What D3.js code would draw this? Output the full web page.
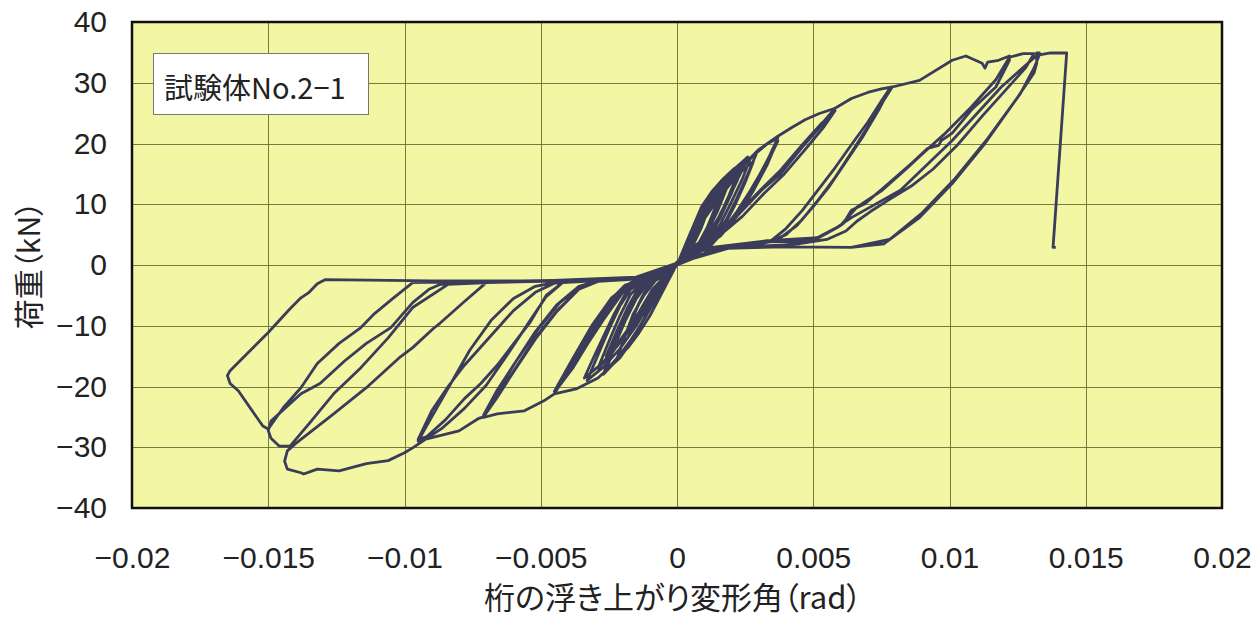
<!DOCTYPE html>
<html>
<head>
<meta charset="utf-8">
<script src="https://cdn.jsdelivr.net/npm/d3@7"></script>
<style>
  html, body { margin: 0; padding: 0; background: #fff; }
  svg { display: block; }
</style>
</head>
<body>
<div id="chart"></div>
<script>
// axis ticks
const xTicks = [-0.02, -0.015, -0.01, -0.005, 0, 0.005, 0.01, 0.015, 0.02];
const yTicks = [-40, -30, -20, -10, 0, 10, 20, 30, 40];

// load path, [rotation (rad), load (kN)]
const smallLoops = [
  [0,0],[0.0002,1.6],[0.0004,3.2],[0.0006,4.6],[0.0004,2.6],[0.0002,1.2],[0,0.2],
  [-0.0002,-1.2],[-0.0004,-2.6],[-0.0006,-3.9],[-0.0004,-2.1],[-0.0002,-1.0],[0,0],
  [0.0003,2.4],[0.0006,4.9],[0.0008,6.6],[0.0010,8.0],[0.0008,5.6],[0.0005,3.0],[0.0002,1.4],[0,0.3],
  [-0.0003,-1.9],[-0.0006,-3.9],[-0.0008,-5.2],[-0.0011,-6.8],[-0.0008,-4.1],[-0.0005,-2.2],[-0.0002,-1.0],[0,0],
  [0.0003,2.6],[0.0006,5.2],[0.0009,7.4],[0.0011,8.6],[0.0009,6.2],[0.0006,3.4],[0.0003,1.7],[0,0.2],
  [-0.0003,-2.1],[-0.0006,-4.3],[-0.0009,-6.1],[-0.0011,-7.2],[-0.0008,-4.4],[-0.0005,-2.4],[-0.0002,-1.1],[0,0]
];

const loopB = [
  [0.0004,3.4],[0.0008,6.9],[0.0012,9.8],[0.0015,11.6],[0.0017,12.6],[0.0014,9.4],[0.0011,6.1],[0.0008,3.6],[0.0005,2.3],[0.0002,1.5],[0,0.2],
  [-0.0003,-1.6],[-0.0007,-3.9],[-0.0011,-6.8],[-0.0015,-9.3],[-0.0018,-10.8],[-0.0015,-7.4],[-0.0012,-4.6],[-0.0008,-2.4],[-0.0004,-1.4],[0,0],
  [0.0003,3.2],[0.0006,6.4],[0.0009,9.6],[0.0013,12.2],[0.0017,14.2],[0.0021,15.9],[0.0018,12.4],[0.0015,9.0],[0.0012,6.2],[0.0009,4.0],[0.0005,2.6],[0.0002,1.6],[0,0.2],
  [-0.0003,-2.4],[-0.0006,-5.0],[-0.001,-8.4],[-0.0014,-11.2],[-0.0018,-13.6],[-0.0022,-15.4],[-0.0019,-11.6],[-0.0016,-8.2],[-0.0013,-5.4],[-0.001,-3.2],[-0.0006,-2.0],[-0.0002,-1.2],[0,0],
  [0.0004,3.1],[0.0008,6.5],[0.0012,9.5],[0.0016,12.0],[0.0018,13.0],[0.0015,9.9],[0.0012,6.6],[0.0009,3.9],[0.0005,2.4],[0.0002,1.6],[0,0.3],
  [-0.0003,-1.8],[-0.0007,-4.2],[-0.0011,-7.2],[-0.0015,-9.8],[-0.0019,-11.6],[-0.0016,-8.0],[-0.0012,-4.9],[-0.0008,-2.6],[-0.0004,-1.5],[0,0],
  [0.0005,4.6],[0.001,8.6],[0.0015,11.8],[0.002,14.4],[0.0023,15.8],[0.0019,11.4],[0.0015,7.4],[0.0011,4.2],[0.0007,2.6],[0.0003,1.8],[0,0.4],
  [-0.0004,-1.8],[-0.0008,-4.0],[-0.0013,-7.4],[-0.0018,-10.6],[-0.0022,-13.0],[-0.0025,-14.4],[-0.0021,-10.2],[-0.0017,-6.4],[-0.0013,-3.4],[-0.0008,-2.1],[-0.0003,-1.3],[0,0],
  [0.0004,4.0],[0.0008,7.6],[0.0012,10.6],[0.0016,13.0],[0.002,15.0],[0.0025,17.2],[0.0022,13.8],[0.0018,10.0],[0.0014,6.6],[0.001,4.2],[0.0006,2.8],[0.0002,1.8],[0,0.3],
  [-0.0004,-2.8],[-0.0008,-5.8],[-0.0012,-8.9],[-0.0017,-12.4],[-0.0022,-15.6],[-0.0027,-18.0],[-0.0024,-14.0],[-0.002,-9.8],[-0.0016,-6.2],[-0.0012,-3.6],[-0.0008,-2.3],[-0.0003,-1.4],[0,0],
  [0.0005,4.2],[0.001,8.2],[0.0015,11.4],[0.002,14.0],[0.0024,16.2],[0.002,11.8],[0.0016,7.9],[0.0012,4.6],[0.0008,2.8],[0.0003,1.9],[0,0.3],
  [-0.0004,-2.0],[-0.0009,-4.6],[-0.0014,-8.0],[-0.0019,-11.3],[-0.0023,-13.6],[-0.0026,-15.0],[-0.0022,-10.8],[-0.0018,-6.9],[-0.0014,-3.7],[-0.0009,-2.2],[-0.0004,-1.4],[0,0],
  [0.0006,5.2],[0.0012,10.0],[0.0018,13.6],[0.0023,16.0],[0.0027,17.6],[0.0024,14.2],[0.002,10.4],[0.0016,6.8],[0.0012,4.0],[0.0008,2.7],[0.0004,2.0],[0,0.5],
  [-0.0004,-1.7],[-0.0009,-4.0],[-0.0014,-7.8],[-0.002,-12.0],[-0.0025,-15.2],[-0.0029,-17.0],[-0.0025,-12.6],[-0.0021,-8.4],[-0.0017,-4.8],[-0.0012,-2.6],[-0.0006,-1.7],[0,0],
  [0.0005,5.4],[0.0009,9.0],[0.0014,12.4],[0.0019,15.0],[0.0024,17.0],[0.0026,17.8],[0.0023,14.8],[0.0019,11.2],[0.0015,7.6],[0.0011,4.8],[0.0007,3.0],[0.0003,2.0],[0,0.4],
  [-0.0003,-2.0],[-0.0007,-4.8],[-0.0011,-8.0],[-0.0016,-11.8],[-0.0021,-14.8],[-0.0026,-17.4],[-0.0023,-13.4],[-0.0019,-9.2],[-0.0015,-5.6],[-0.0011,-3.2],[-0.0006,-1.9],[0,0],
  [0.0004,3.6],[0.0009,8.0],[0.0014,11.8],[0.0019,14.6],[0.0024,16.8],[0.0029,18.2],[0.0026,15.0],[0.0022,11.0],[0.0018,7.4],[0.0014,4.6],[0.0009,3.0],[0.0004,2.1],[0,0.4],
  [-0.0004,-2.2],[-0.0009,-5.6],[-0.0015,-10.0],[-0.0021,-13.8],[-0.0027,-16.8],[-0.0033,-19.0],[-0.0029,-14.8],[-0.0025,-10.6],[-0.0021,-6.8],[-0.0017,-4.0],[-0.0012,-2.5],[-0.0006,-1.8],[0,0],
  [0.0005,3.8],[0.001,7.6],[0.0015,10.8],[0.002,13.6],[0.0025,16.0],[0.0028,17.0],[0.0025,13.6],[0.0021,9.6],[0.0017,6.2],[0.0013,3.8],[0.0008,2.6],[0.0003,1.8],[0,0.3],
  [-0.0005,-2.6],[-0.001,-6.0],[-0.0016,-9.8],[-0.0022,-13.4],[-0.0028,-16.4],[-0.0034,-18.6],[-0.0031,-15.6],[-0.0027,-11.8],[-0.0023,-8.0],[-0.0019,-4.8],[-0.0014,-2.8],[-0.0008,-2.0],[0,0]
];

const loopC = [
  [0.0006,5.0],[0.0012,9.6],[0.0018,13.2],[0.0024,16.2],[0.0029,18.4],[0.0033,19.9],[0.0037,20.9],[0.0034,18.0],[0.0029,13.6],[0.0023,9.2],[0.0017,5.6],[0.0012,3.4],[0.0008,2.6],[0.0003,1.8],[0,0.3],
  [-0.0004,-1.5],[-0.0008,-4.4],[-0.0012,-8.8],[-0.0016,-12.2],[-0.0021,-15.3],[-0.0029,-18.6],[-0.0037,-20.4],[-0.0045,-21.2],[-0.0039,-16.4],[-0.0032,-11.0],[-0.0025,-6.2],[-0.0019,-3.4],[-0.0013,-2.4],[-0.0007,-1.8],[-0.0003,-1.2],[0,0],
  [0.0004,1.9],[0.0008,2.6],[0.0012,3.5],[0.0018,6.0],[0.0024,10.0],[0.003,14.6],[0.0035,18.8],[0.0037,20.4],[0.0034,17.6],[0.0029,13.2],[0.0023,8.8],[0.0017,5.4],[0.0012,3.3],[0.0007,2.5],[0.0003,1.8],[0,0.3],
  [-0.0006,-1.8],[-0.0013,-2.5],[-0.0019,-3.8],[-0.0025,-7.6],[-0.0032,-12.4],[-0.0038,-16.8],[-0.0044,-20.4],[-0.0045,-20.8],[-0.0039,-16.0],[-0.0032,-10.6],[-0.0025,-6.0],[-0.0019,-3.3],[-0.0012,-2.3],[-0.0006,-1.7],[0,0],
  [0.0005,2.0],[0.001,3.0],[0.0016,5.2],[0.0022,8.8],[0.0028,13.0],[0.0033,16.8],[0.0036,19.6],[0.0033,16.4],[0.0028,12.2],[0.0022,8.0],[0.0016,4.8],[0.001,3.0],[0.0005,2.2],[0,0.3],
  [-0.0007,-1.9],[-0.0014,-2.6],[-0.002,-4.6],[-0.0027,-9.0],[-0.0034,-13.8],[-0.004,-17.6],[-0.0044,-20.0],[-0.0038,-15.2],[-0.0031,-9.8],[-0.0024,-5.4],[-0.0017,-2.9],[-0.001,-2.1],[0,0]
];

const loopD = [
  [0.0006,5.0],[0.0014,10.6],[0.0022,15.4],[0.003,19.0],[0.0037,21.2],[0.0042,22.6],[0.0047,23.9],[0.0052,24.9],[0.0058,25.8],[0.0053,23.0],[0.0046,19.4],[0.0038,15.0],[0.0031,12.3],[0.0023,8.5],[0.0015,5.2],[0.001,3.0],[0.0006,2.2],[0.0002,1.2],[0,0.2],
  [-0.0005,-1.6],[-0.001,-2.2],[-0.0016,-2.7],[-0.0021,-4.4],[-0.0027,-8.2],[-0.0033,-12.4],[-0.0039,-16.8],[-0.0045,-21.2],[-0.0049,-22.4],[-0.0056,-24.0],[-0.0066,-24.5],[-0.0071,-25.1],[-0.0066,-21.0],[-0.006,-16.5],[-0.0052,-11.0],[-0.0044,-6.5],[-0.0036,-3.5],[-0.0029,-2.6],[-0.002,-2.3],[-0.001,-1.8],[-0.0004,-1.2],[0,0],
  [0.0005,2.0],[0.001,2.8],[0.0015,5.0],[0.0023,8.8],[0.0031,12.5],[0.0038,15.6],[0.0046,19.8],[0.0053,23.3],[0.0058,25.4],[0.0054,22.8],[0.0047,19.0],[0.0039,14.8],[0.0032,11.8],[0.0024,8.0],[0.0016,5.0],[0.0011,3.0],[0.0006,2.3],[0,0.3],
  [-0.0008,-1.9],[-0.0018,-2.4],[-0.0029,-2.7],[-0.0036,-4.0],[-0.0044,-7.5],[-0.0052,-12.0],[-0.006,-17.5],[-0.0066,-21.6],[-0.0071,-24.7],[-0.0066,-20.6],[-0.0059,-15.8],[-0.0051,-10.6],[-0.0043,-6.2],[-0.0035,-3.4],[-0.0028,-2.6],[-0.0018,-2.2],[-0.0008,-1.7],[0,0]
];

const loopE = [
  [0.0004,1.8],[0.0008,2.4],[0.0012,3.0],[0.0016,5.0],[0.0023,8.5],[0.0031,12.3],[0.0038,15.3],[0.0046,19.6],[0.0053,23.2],[0.0058,25.8],[0.0064,27.4],[0.007,28.4],[0.0075,29.0],[0.0079,29.3],
  [0.0075,26.5],[0.007,22.7],[0.0064,18.5],[0.0058,14.4],[0.0052,10.8],[0.0046,7.5],[0.004,5.0],[0.0034,3.8],[0.0027,3.2],[0.002,2.9],[0.0012,2.6],[0.0006,2.2],[0,0.2],
  [-0.0008,-1.9],[-0.0018,-2.4],[-0.0029,-2.7],[-0.0036,-4.0],[-0.0044,-7.6],[-0.0052,-12.2],[-0.006,-17.6],[-0.0066,-21.8],[-0.0071,-25.0],[-0.0073,-25.3],[-0.008,-27.3],[-0.009,-28.4],[-0.0095,-29.0],
  [-0.009,-25.0],[-0.0083,-19.5],[-0.0076,-14.0],[-0.0068,-9.0],[-0.006,-5.5],[-0.0052,-3.5],[-0.0044,-2.8],[-0.0035,-2.6],[-0.0025,-2.4],[-0.0015,-2.0],[-0.0007,-1.5],[0,0],
  [0.0006,2.2],[0.0015,2.7],[0.0025,3.2],[0.0034,3.8],[0.004,6.0],[0.0046,9.0],[0.0052,12.5],[0.0058,16.0],[0.0064,19.8],[0.007,23.5],[0.0075,27.0],[0.0078,29.0],
  [0.0074,25.5],[0.0068,21.0],[0.0062,17.0],[0.0056,13.0],[0.005,9.6],[0.0044,6.5],[0.0038,4.5],[0.003,3.5],[0.002,3.0],[0.001,2.5],[0,0.3],
  [-0.001,-2.0],[-0.0025,-2.5],[-0.0042,-2.9],[-0.0048,-5.0],[-0.0054,-9.5],[-0.006,-13.0],[-0.0066,-16.5],[-0.0072,-19.5],[-0.0078,-22.0],[-0.0085,-25.5],[-0.0092,-28.3],[-0.0095,-28.7],
  [-0.009,-24.0],[-0.0084,-20.0],[-0.0078,-16.5],[-0.0072,-13.5],[-0.0066,-10.5],[-0.006,-7.5],[-0.0052,-4.5],[-0.0045,-3.0],[-0.0035,-2.7],[-0.002,-2.3],[-0.0008,-1.7],[0,0]
];

const loopF = [
  [0.0008,2.5],[0.002,3.0],[0.0034,3.8],[0.004,6.0],[0.0046,9.0],[0.0052,12.5],[0.0058,16.0],[0.0064,19.8],[0.007,23.5],[0.0075,27.0],[0.0079,29.3],
  [0.0089,30.4],[0.0101,33.7],[0.0106,34.4],[0.0112,33.2],[0.0113,32.4],[0.0114,33.4],[0.0118,33.7],[0.0122,34.4],[0.0122,33.7],
  [0.0117,29.3],[0.0108,25.5],[0.0101,21.7],[0.0097,20.5],[0.0096,19.7],[0.0092,19.2],[0.0086,16.7],[0.0076,12.8],[0.0069,10.1],[0.0064,9.0],[0.0061,6.8],[0.0059,6.2],[0.0052,4.5],[0.0033,4.0],[0.0009,2.7],[0,0.3],
  [-0.001,-2.0],[-0.0025,-2.5],[-0.0042,-2.9],[-0.0048,-5.2],[-0.0054,-9.2],[-0.0062,-14.6],[-0.007,-19.8],[-0.0078,-23.6],[-0.0086,-26.8],[-0.0093,-28.9],
  [-0.0097,-30.1],[-0.01,-30.9],[-0.0106,-32.2],[-0.0114,-32.7],[-0.0124,-33.9],[-0.0132,-33.6],[-0.0137,-34.4],[-0.0138,-34.2],[-0.0143,-33.6],[-0.0144,-32.3],[-0.0143,-30.6],
  [-0.014,-29.4],[-0.0126,-24.5],[-0.0114,-20.2],[-0.0102,-15.3],[-0.0097,-13.6],[-0.0089,-10.3],[-0.0087,-9.6],[-0.0078,-6.0],[-0.007,-2.9],[-0.005,-2.7],[-0.003,-2.5],[-0.0015,-2.1],[0,0],
  [0.0009,2.7],[0.0033,3.8],[0.0045,3.9],[0.0052,4.6],[0.006,6.5],[0.0066,9.5],[0.0075,12.2],[0.0085,16.2],[0.0093,19.5],[0.0098,21.5],[0.0108,26.0],[0.0117,30.5],[0.0122,34.2],[0.0127,34.8],[0.0131,34.8],
  [0.0128,32.5],[0.0121,29.0],[0.0112,24.5],[0.0103,19.8],[0.0094,15.8],[0.0086,13.0],[0.0078,10.8],[0.0071,8.8],[0.0066,7.2],[0.0062,5.6],[0.0055,4.2],[0.0045,3.5],[0.003,3.0],[0.0015,2.7],[0,0.3],
  [-0.0015,-2.1],[-0.004,-2.6],[-0.0065,-2.8],[-0.0084,-3.2],[-0.0097,-7.0],[-0.0106,-12.0],[-0.0116,-16.9],[-0.0126,-21.2],[-0.0135,-26.1],[-0.0142,-29.8],[-0.0146,-29.8],[-0.0149,-28.5],[-0.015,-27.3],
  [-0.0149,-25.7],[-0.0138,-21.2],[-0.0131,-19.5],[-0.0122,-15.8],[-0.0114,-12.9],[-0.0105,-10.3],[-0.0097,-6.2],[-0.0091,-4.0],[-0.0087,-3.2],[-0.007,-2.8],[-0.004,-2.5],[-0.0015,-2.0],[0,0]
];

const loopG = [
  [0.0015,2.7],[0.004,3.0],[0.0064,2.9],[0.0076,3.5],[0.0089,7.8],[0.0101,13.4],[0.0113,20.0],[0.0125,27.6],[0.0131,31.6],[0.0132,33.2],[0.0132,34.9],[0.0133,34.9],
  [0.0119,29.3],[0.0101,20.5],[0.0082,12.3],[0.0064,7.8],[0.0058,6.0],[0.005,4.0],[0.004,3.3],[0.002,2.9],[0,0.3],
  [-0.0015,-2.0],[-0.005,-2.6],[-0.009,-2.6],[-0.0129,-2.4],[-0.0132,-3.1],[-0.0135,-4.5],[-0.0138,-5.4],[-0.0142,-7.2],[-0.015,-11.1],[-0.0164,-17.4],[-0.0165,-18.2],[-0.0164,-19.5],[-0.0161,-20.7],[-0.0152,-26.5],[-0.015,-27.0],
  [-0.01445,-23.5],[-0.0138,-20.2],[-0.0132,-16.2],[-0.0124,-12.9],[-0.0116,-10.3],[-0.0111,-8.0],[-0.0104,-5.4],[-0.0097,-2.9],[-0.007,-2.7],[-0.004,-2.5],[-0.0015,-2.0],[0,0]
];

const finalPush = [
  [0.0015,2.7],[0.004,3.0],[0.0064,2.9],[0.0078,4.2],[0.009,8.6],[0.0102,14.2],[0.0114,20.8],[0.0126,28.2],[0.0131,32.4],[0.0133,34.6],[0.0137,34.9],[0.0143,34.9],[0.0138,2.9],[0.0139,2.9]
];

const loadPath = [].concat(smallLoops, loopB, loopC, loopD, loopE, loopF, loopG, finalPush);

const width = 1255;
const height = 619;
const margin = { top: 22, right: 33, bottom: 111, left: 132 };

const svg = d3.select("#chart")
  .append("svg")
  .attr("width", width)
  .attr("height", height);

const x = d3.scaleLinear()
  .domain([-0.02, 0.02])
  .range([margin.left, width - margin.right]);

const y = d3.scaleLinear()
  .domain([-40, 40])
  .range([height - margin.bottom, margin.top]);

// plot background
svg.append("rect")
  .attr("x", x(-0.02))
  .attr("y", y(40))
  .attr("width", x(0.02) - x(-0.02))
  .attr("height", y(-40) - y(40))
  .attr("fill", "#f3f7a3");

// grid
const grid = svg.append("g")
  .attr("stroke", "#6a6a36")
  .attr("stroke-width", 1)
  .attr("stroke-opacity", 0.9);

grid.selectAll("line.v")
  .data(xTicks.slice(1, -1))
  .join("line")
  .attr("class", "v")
  .attr("x1", d => Math.round(x(d)) + 0.5)
  .attr("x2", d => Math.round(x(d)) + 0.5)
  .attr("y1", y(40))
  .attr("y2", y(-40));

grid.selectAll("line.h")
  .data(yTicks.slice(1, -1))
  .join("line")
  .attr("class", "h")
  .attr("x1", x(-0.02))
  .attr("x2", x(0.02))
  .attr("y1", d => Math.round(y(d)) + 0.5)
  .attr("y2", d => Math.round(y(d)) + 0.5);

// the curve
const line = d3.line()
  .x(d => x(d[0]))
  .y(d => y(d[1]));

svg.append("path")
  .datum(loadPath)
  .attr("fill", "none")
  .attr("stroke", "#3b3c5a")
  .attr("stroke-width", 2.8)
  .attr("stroke-linejoin", "round")
  .attr("d", line);

// frame
svg.append("rect")
  .attr("x", x(-0.02))
  .attr("y", y(40))
  .attr("width", x(0.02) - x(-0.02))
  .attr("height", y(-40) - y(40))
  .attr("fill", "none")
  .attr("stroke", "#111")
  .attr("stroke-width", 2.5);

// axes
const tickFont = "'Liberation Sans', Arial, sans-serif";

const xAxis = svg.append("g")
  .attr("transform", `translate(0,${y(-40)})`)
  .call(d3.axisBottom(x)
    .tickValues(xTicks)
    .tickSize(0)
    .tickPadding(39)
    .tickFormat(d => d3.format("~g")(d)));

const yAxis = svg.append("g")
  .attr("transform", `translate(${x(-0.02)},0)`)
  .call(d3.axisLeft(y)
    .tickValues(yTicks)
    .tickSize(0)
    .tickPadding(25)
    .tickFormat(d3.format("d")));

[xAxis, yAxis].forEach(g => {
  g.select(".domain").remove();
  g.selectAll("text")
    .attr("fill", "#222")
    .style("font-family", tickFont)
    .style("font-size", "30px");
});

// axis titles
const cjkFont = "'Noto Sans CJK JP', sans-serif";

svg.append("text")
  .attr("x", x(0) - 4)
  .attr("y", 609)
  .attr("text-anchor", "middle")
  .attr("fill", "#222")
  .style("font-family", cjkFont)
  .style("font-size", "31px")
  .style("font-feature-settings", "'palt'")
  .text("桁の浮き上がり変形角（rad）");

svg.append("text")
  .attr("transform", `translate(40,${y(0)}) rotate(-90)`)
  .attr("text-anchor", "middle")
  .attr("fill", "#222")
  .style("font-family", cjkFont)
  .style("font-size", "30px")
  .style("font-feature-settings", "'palt'")
  .text("荷重（kN）");

// specimen label
svg.append("rect")
  .attr("x", 153.5)
  .attr("y", 53.5)
  .attr("width", 215)
  .attr("height", 61)
  .attr("fill", "#fff")
  .attr("stroke", "#777")
  .attr("stroke-width", 1);

svg.append("text")
  .attr("x", 164)
  .attr("y", 99)
  .attr("fill", "#222")
  .style("font-family", cjkFont)
  .style("font-size", "29px")
  .text("試験体No.2−1");
</script>
</body>
</html>
